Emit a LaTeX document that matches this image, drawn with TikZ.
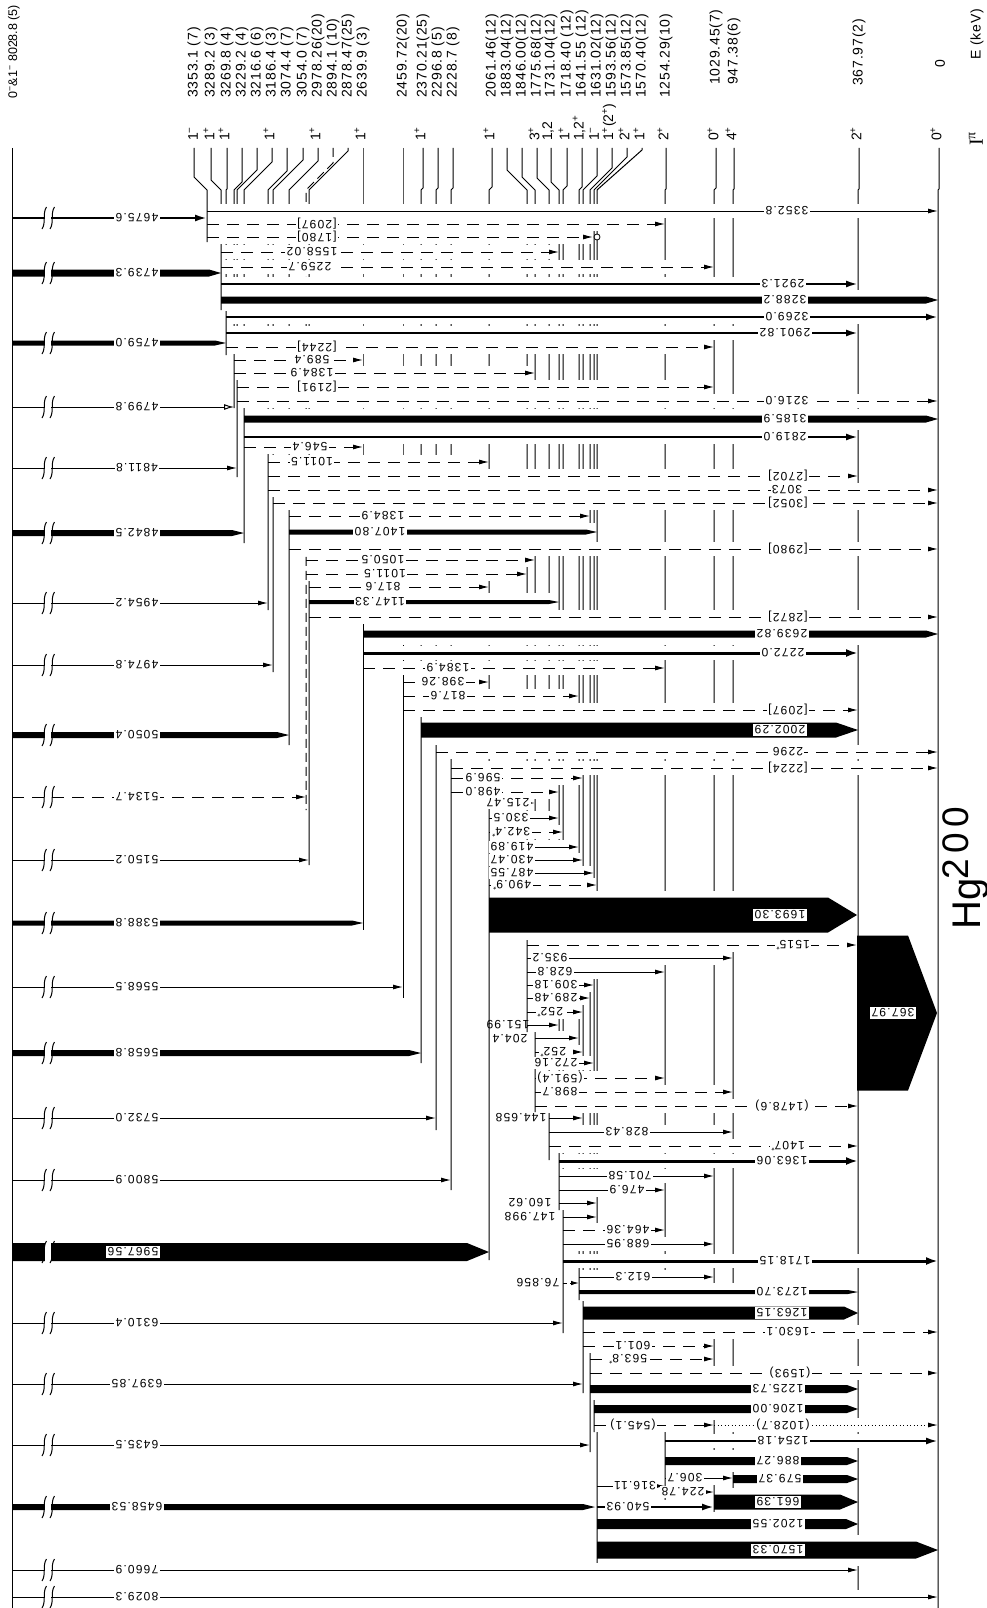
\documentclass[tikz,border=0pt]{standalone}
\usepackage{fontspec}
\setmainfont{Liberation Sans}
\newfontfamily\gfont[LetterSpace=10]{Liberation Sans}
\newfontfamily\lfont[LetterSpace=6]{Liberation Sans}
\newfontfamily\hfont[LetterSpace=15]{Liberation Sans}
\newfontfamily\sfont{Liberation Serif}
\usetikzlibrary{arrows.meta}
\pgfdeclarelayer{bg}
\pgfdeclarelayer{levl}
\pgfdeclarelayer{halo}
\pgfsetlayers{bg,levl,halo,main}
\tikzset{
  lev/.style={line width=1pt},
  levd/.style={line width=1pt,dash pattern=on 9pt off 5pt},
  tt/.style={line width=1pt,-{Latex[length=10pt,width=5pt]}},
  dd/.style={line width=1pt,dash pattern=on 12pt off 8pt,-{Latex[length=10pt,width=5pt]}},
  ds/.style={line width=1pt,dash pattern=on 4pt off 3pt,-{Latex[length=8pt,width=4.5pt]}},
  mm/.style={line width=2.2pt,-{Latex[length=12pt,width=7pt]}},
  mt/.style={line width=3pt,-{Latex[length=12pt,width=8pt]}},
  oo/.style={line width=1pt,dash pattern=on 1pt off 2.5pt,-{Latex[length=10pt,width=5pt]}},
  to/.style={line width=1pt,-{Latex[open,length=10pt,width=6pt]}},
  gl/.style={fill=white,inner sep=1.3pt,rotate=180,font=\gfont\fontsize{12}{12}\selectfont},
  gn/.style={inner sep=1pt,rotate=180,font=\gfont\fontsize{12}{12}\selectfont},
  ll/.style={inner sep=0pt,rotate=90,anchor=west,font=\lfont\fontsize{14}{14}\selectfont},
  sl/.style={inner sep=0pt,rotate=90,anchor=west,font=\fontsize{14}{14}\selectfont},
}
% transition line: y, x1, x2, style
\newcommand\trn[4]{%
  \begin{pgfonlayer}{halo}\fill[white] ({#2+1.5},{#1-7}) rectangle ({#3-1.5},{#1+7});\end{pgfonlayer}
  \draw[#4] (#2,#1) -- (#3,#1);}
% thick bar: y, x1, x2, half width, taper
\newcommand\tbar[5]{%
  \begin{pgfonlayer}{halo}\fill[white] ({#2+1.5},{#1-#4-7}) rectangle ({#3-1.5},{#1+#4+7});\end{pgfonlayer}
  \fill (#2,{#1-#4}) -- ({#3-#5},{#1-#4}) -- (#3,#1) -- ({#3-#5},{#1+#4}) -- (#2,{#1+#4}) -- cycle;}
% break marks on primaries: y, half height
\newcommand\brkm[2]{%
  \fill[white] (45,{#1-#2-0.8}) rectangle (51,{#1+#2+0.8});
  \draw[line width=1pt] (46.5,{#1-11}) .. controls (42,{#1-4}) and (46.5,{#1+4}) .. (42,{#1+11});
  \draw[line width=1pt] (54.5,{#1-11}) .. controls (50,{#1-4}) and (54.5,{#1+4}) .. (50,{#1+11});}
\newcommand\prt[3]{\trn{#1}{12}{#2}{#3}\brkm{#1}{1}}
\newcommand\prb[4]{\tbar{#1}{12}{#2}{#3}{#4}\brkm{#1}{#3}}
\newcommand\glab[3]{\node[gl] at (#1,#2) {#3};}
\newcommand\glft[3]{\node[gn] at (#1,#2) {#3};}
% level line: [style] label x, bottom x, bottom y
\newcommand\lvl[4][lev]{%
  \pgfmathsetmacro\ya{max(150,190-abs(#2-#3))}%
  \begin{pgfonlayer}{levl}\draw[#1] (#2,148) -- (#2,\ya) -- (#3,190) -- (#3,#4);\end{pgfonlayer}}
\begin{document}
\begin{tikzpicture}[x=1pt,y=-1pt]
\useasboundingbox (0,0) rectangle (986,1608);
\begin{pgfonlayer}{bg}\fill[white] (0,0) rectangle (986,1608);\end{pgfonlayer}
\begin{pgfonlayer}{levl}\draw[lev] (12,148) -- (12,1608);\end{pgfonlayer}
% ---------------- levels
\lvl{194}{207}{242}
\lvl{211}{221}{310}
\lvl{227}{226}{355}
\lvl{242}{234}{408}
\lvl{257}{237}{477}
\lvl{272}{244}{543}
\lvl{287}{268}{610}
\lvl{303}{273}{672}
\lvl{318}{289}{745}
\lvl[levd]{333}{306}{810}
\lvl{348}{309}{865}
\lvl{363}{363}{930}
\lvl{403}{403}{998}
\lvl{423}{421}{1063}
\lvl{438}{436}{1130}
\lvl{453}{451}{1190}
\lvl{492}{489}{1260}
\lvl{507}{527}{1032}
\lvl{522}{535}{1112}
\lvl{537}{549}{1160}
\lvl{551}{559}{1210}
\lvl{567}{563}{1333}
\lvl{582}{579}{1300}
\lvl{597}{583}{1393}
\lvl{612}{590}{1452}
\lvl{627}{594}{1432}
\lvl{642}{597}{1563}
\lvl{666}{665}{1500}
\lvl{716}{714}{1517}
\lvl{734}{733}{1490}
\lvl{859}{858}{1590}
\lvl{939}{938}{1608}
% level labels
\node[ll,font=\fontsize{12.5}{12.5}\selectfont] at (14,99) {0\textsuperscript{−}\&1\textsuperscript{−} 8028.8 (5)};
\node[ll] at (194,98) {3353.1 (7)};
\node[ll] at (211,98) {3289.2 (3)};
\node[ll] at (227,98) {3269.8 (4)};
\node[ll] at (242,98) {3229.2 (4)};
\node[ll] at (257,98) {3216.6 (6)};
\node[ll] at (272,98) {3186.4 (3)};
\node[ll] at (287,98) {3074.4 (7)};
\node[ll] at (303,98) {3054.0 (7)};
\node[ll] at (318,98) {2978.26(20)};
\node[ll] at (333,98) {2894.1 (10)};
\node[ll] at (348,98) {2878.47(25)};
\node[ll] at (363,98) {2639.9 (3)};
\node[ll] at (403,98) {2459.72(20)};
\node[ll] at (423,98) {2370.21(25)};
\node[ll] at (438,98) {2296.8 (5)};
\node[ll] at (453,98) {2228.7 (8)};
\node[ll] at (492,98) {2061.46(12)};
\node[ll] at (507,98) {1883.04(12)};
\node[ll] at (522,98) {1846.00(12)};
\node[ll] at (537,98) {1775.68(12)};
\node[ll] at (551,98) {1731.04(12)};
\node[ll] at (567,98) {1718.40 (12)};
\node[ll] at (582,98) {1641.55 (12)};
\node[ll] at (597,98) {1631.02(12)};
\node[ll] at (612,98) {1593.56(12)};
\node[ll] at (627,98) {1573.85(12)};
\node[ll] at (642,98) {1570.40(12)};
\node[ll] at (666,98) {1254.29(10)};
\node[ll] at (716,85) {1029.45(7)};
\node[ll] at (734,85) {947.38(6)};
\node[ll] at (859,86) {367.97(2)};
\node[ll] at (940,68) {0};
\node[ll] at (977,60) {E (keV)};
% spins
\node[sl] at (193,141) {1\textsuperscript{−}};
\node[sl] at (209,141) {1\textsuperscript{+}};
\node[sl] at (224,141) {1\textsuperscript{+}};
\node[sl] at (269,141) {1\textsuperscript{+}};
\node[sl] at (315,141) {1\textsuperscript{+}};
\node[sl] at (360,141) {1\textsuperscript{+}};
\node[sl] at (420,141) {1\textsuperscript{+}};
\node[sl] at (489,141) {1\textsuperscript{+}};
\node[sl] at (534,141) {3\textsuperscript{+}};
\node[sl] at (548,141) {1,2};
\node[sl] at (564,141) {1\textsuperscript{+}};
\node[sl] at (579,141) {1,2\textsuperscript{+}};
\node[sl] at (594,141) {1\textsuperscript{−}};
\node[sl] at (609,141) {1\textsuperscript{+}(2\textsuperscript{+})};
\node[sl] at (624,141) {2\textsuperscript{+}};
\node[sl] at (639,141) {1\textsuperscript{+}};
\node[sl] at (663,141) {2\textsuperscript{+}};
\node[sl] at (713,141) {0\textsuperscript{+}};
\node[sl] at (731,141) {4\textsuperscript{+}};
\node[sl] at (856,141) {2\textsuperscript{+}};
\node[sl] at (936,141) {0\textsuperscript{+}};
\node[sl,font=\sfont\fontsize{20}{20}\selectfont] at (976,146) {I\textsuperscript{π}};
\node[rotate=90,anchor=base west,inner sep=0pt,font=\fontsize{40}{40}\selectfont] at (980,930) {Hg};
\node[rotate=90,anchor=base west,inner sep=0pt,font=\hfont\fontsize{37}{37}\selectfont] at (968,880) {200};
% ---------------- transitions
\trn{211}{207}{938}{tt}
\prt{218}{207}{mm}
\trn{224}{207}{665}{dd}
\trn{237}{207}{593}{dd}
\draw[line width=0.8pt,fill=white] (597,237) circle (3);
\trn{252}{221}{559}{dd}
\trn{267}{221}{714}{dd}
\prb{273}{221}{3.5}{12}
\trn{284}{221}{858}{mm}
\tbar{300}{221}{938}{3.5}{12}
\trn{317}{226}{938}{mm}
\trn{333}{226}{858}{mm}
\prb{343}{226}{2.5}{11}
\trn{347}{226}{714}{dd}
\trn{360}{234}{363}{dd}
\trn{373}{234}{535}{dd}
\trn{387}{237}{714}{dd}
\trn{401}{237}{938}{dd}
\prt{407}{234}{to}
\tbar{419}{244}{938}{3.5}{12}
\trn{437}{244}{858}{mm}
\trn{447}{244}{363}{dd}
\trn{462}{268}{489}{dd}
\prt{468}{237}{tt}
\trn{476}{268}{858}{dd}
\trn{490}{268}{938}{dd}
\trn{503}{273}{938}{dd}
\trn{516}{289}{590}{dd}
\tbar{532}{289}{597}{2.5}{11}
\prb{533}{244}{3}{12}
\trn{549}{289}{938}{dd}
\trn{560}{306}{535}{dd}
\trn{574}{306}{527}{dd}
\trn{587}{309}{489}{dd}
\tbar{602}{309}{559}{2}{10}
\prt{603}{268}{tt}
\trn{617}{309}{938}{dd}
\tbar{634}{363}{938}{3.5}{12}
\trn{653}{363}{858}{mt}
\prt{665}{273}{tt}
\trn{668}{363}{665}{dd}
\trn{682}{403}{489}{dd}
\trn{696}{403}{579}{dd}
\trn{710}{403}{858}{dd}
\tbar{730}{421}{858}{7.5}{22}
\prb{735}{289}{3}{12}
\trn{752}{436}{938}{dd}
\trn{768}{451}{938}{dd}
\trn{778}{451}{583}{dd}
\trn{792}{451}{559}{dd}
\prt{797}{306}{dd}
\trn{803}{489}{535}{tt}
\trn{818}{489}{559}{tt}
\trn{832}{489}{563}{dd}
\trn{847}{489}{579}{tt}
\trn{860}{489}{583}{tt}
\prt{860}{309}{tt}
\trn{873}{489}{594}{tt}
\trn{885}{489}{597}{dd}
\tbar{915}{489}{857}{17.5}{29}
\prb{923}{363}{2.5}{11}
\fill (857,935.5) -- (908,935.5) -- (937,1013) -- (908,1090.5) -- (857,1090.5) -- cycle;
\trn{945}{527}{857}{dd}
\trn{958}{527}{733}{tt}
\trn{972}{527}{665}{tt}
\trn{985}{527}{594}{tt}
\prt{987}{403}{tt}
\trn{998}{527}{590}{tt}
\trn{1012}{527}{583}{dd}
\trn{1025}{527}{559}{tt}
\trn{1038}{535}{579}{tt}
\trn{1052}{535}{583}{dd}
\prb{1053}{421}{3}{12}
\trn{1063}{535}{594}{tt}
\trn{1078}{535}{665}{dd}
\trn{1092}{535}{733}{dd}
\trn{1106}{535}{858}{dd}
\trn{1118}{549}{583}{tt}
\prt{1118}{436}{tt}
\trn{1132}{549}{733}{tt}
\trn{1146}{549}{858}{dd}
\trn{1161}{559}{858}{mt}
\trn{1176}{559}{714}{tt}
\prt{1180}{451}{tt}
\trn{1190}{559}{665}{tt}
\trn{1203}{559}{597}{tt}
\trn{1217}{563}{597}{tt}
\trn{1230}{563}{665}{dd}
\trn{1244}{563}{714}{tt}
\prb{1252}{489}{9}{22}
\trn{1261}{563}{938}{mt}
\trn{1277}{579}{714}{tt}
\trn{1283}{563}{579}{ds}
\tbar{1292}{579}{858}{2}{10}
\tbar{1313}{583}{858}{6.5}{14}
\prt{1323}{563}{tt}
\trn{1332}{583}{938}{dd}
\trn{1346}{583}{714}{dd}
\trn{1359}{590}{714}{dd}
\trn{1373}{590}{938}{dd}
\prt{1384}{583}{tt}
\tbar{1389}{590}{858}{4}{11}
\tbar{1409}{594}{858}{4}{11}
\trn{1425}{594}{714}{dd}
\trn{1425}{714}{938}{oo}
\trn{1441}{665}{938}{mm}
\prt{1445}{590}{tt}
\tbar{1461}{665}{858}{4}{11}
\trn{1478}{665}{733}{tt}
\tbar{1479}{733}{858}{4}{11}
\trn{1486}{597}{665}{tt}
\trn{1492}{665}{714}{tt}
\tbar{1502}{714}{858}{7.5}{18}
\prb{1507}{595}{3}{12}
\trn{1507}{597}{714}{mm}
\tbar{1524}{597}{858}{5}{12}
\tbar{1550}{597}{938}{8.5}{22}
\prt{1570}{858}{tt}
\prt{1597}{938}{tt}
% ---------------- primary labels
\glab{137}{218}{4675.6}
\glab{137}{273}{4739.3}
\glab{137}{343}{4759.0}
\glab{137}{407}{4799.8}
\glab{137}{468}{4811.8}
\glab{137}{533}{4842.5}
\glab{137}{603}{4954.2}
\glab{137}{665}{4974.8}
\glab{137}{735}{5050.4}
\glab{137}{797}{5134.7}
\glab{137}{860}{5150.2}
\glab{137}{923}{5388.8}
\glab{137}{987}{5568.5}
\glab{137}{1053}{5658.8}
\glab{137}{1118}{5732.0}
\glab{137}{1180}{5800.9}
\glab{133}{1252}{5967.56}
\glab{137}{1323}{6310.4}
\glab{137}{1384}{6397.85}
\glab{137}{1445}{6435.5}
\glab{137}{1507}{6458.53}
\glab{137}{1570}{7660.9}
\glab{137}{1597}{8029.3}
% ---------------- secondary labels
\glab{787}{211}{3352.8}
\glab{317}{224}{[2097]}
\glab{317}{237}{[1780]}
\glab{312}{252}{1558.02}
\glab{310}{267}{2259.7}
\glab{783}{284}{2921.3}
\glab{785}{300}{3288.2}
\glab{787}{317}{3269.0}
\glab{785}{333}{2901.82}
\glab{317}{347}{[2244]}
\glab{312}{360}{589.4}
\glab{312}{373}{1384.9}
\glab{317}{387}{[2191]}
\glab{787}{401}{3216.0}
\glab{785}{419}{3185.9}
\glab{785}{437}{2819.0}
\glab{310}{447}{546.4}
\glab{312}{462}{1011.5}
\glab{788}{476}{[2702]}
\glab{787}{490}{3073}
\glab{788}{503}{[3052]}
\glab{383}{516}{1384.9}
\glab{380}{532}{1407.80}
\glab{788}{549}{[2980]}
\glab{383}{560}{1050.5}
\glab{385}{574}{1011.5}
\glab{383}{587}{817.6}
\glab{380}{602}{1147.33}
\glab{788}{617}{[2872]}
\glab{782}{634}{2639.82}
\glab{783}{653}{2272.0}
\glab{448}{668}{1384.9}
\glab{443}{682}{398.26}
\glab{448}{696}{817.6}
\glab{788}{710}{[2097]}
\glab{780}{730}{2002.29}
\glab{788}{752}{2296}
\glab{788}{768}{[2224]}
\glab{483}{778}{596.9}
\glab{483}{792}{498.0}
\glab{508}{803}{215.47}
\glab{511}{818}{330.5}
\glab{511}{832}{342.4\textsuperscript{*}}
\glab{512}{847}{419.89}
\glab{512}{860}{430.47}
\glab{512}{873}{487.55}
\glab{512}{885}{490.9\textsuperscript{*}}
\glab{780}{915}{1693.30}
\glab{893}{1013}{367.97}
\glab{793}{945}{1515\textsuperscript{*}}
\glab{550}{958}{935.2}
\glab{555}{972}{628.8}
\glab{556}{985}{309.18}
\glab{556}{998}{289.48}
\glab{550}{1012}{252\textsuperscript{*}}
\glab{553}{1052}{252\textsuperscript{*}}
\glab{556}{1063}{272.16}
\glab{560}{1078}{(591.4)}
\glab{560}{1092}{898.7}
\glab{782}{1106}{(1478.6)}
\glab{627}{1132}{828.43}
\glab{788}{1146}{1407\textsuperscript{*}}
\glab{782}{1161}{1363.06}
\glab{630}{1176}{701.58}
\glab{627}{1190}{476.9}
\glab{628}{1230}{464.36}
\glab{628}{1244}{688.95}
\glab{785}{1261}{1718.15}
\glab{633}{1277}{612.3}
\glab{782}{1292}{1273.70}
\glab{782}{1313}{1263.15}
\glab{788}{1332}{1630.1}
\glab{633}{1346}{601.1}
\glab{628}{1359}{563.8\textsuperscript{*}}
\glab{790}{1373}{(1593)}
\glab{778}{1389}{1225.73}
\glab{778}{1409}{1206.00}
\glab{633}{1425}{(545.1)}
\glab{783}{1425}{(1028.7)}
\glab{783}{1441}{1254.18}
\glab{778}{1461}{886.27}
\glab{685}{1478}{306.7}
\glab{780}{1479}{579.37}
\glab{635}{1486}{316.11}
\glab{683}{1492}{224.78}
\glab{778}{1502}{661.39}
\glab{628}{1507}{540.93}
\glab{778}{1524}{1202.55}
\glab{778}{1550}{1570.33}
% labels left of starting levels
\glft{508}{1025}{151.99}
\glft{510}{1039}{204.4}
\glft{521}{1118}{144.658}
\glft{530}{1203}{160.62}
\glft{530}{1217}{147.998}
\glft{538}{1283}{76.856}
\end{tikzpicture}
\end{document}
